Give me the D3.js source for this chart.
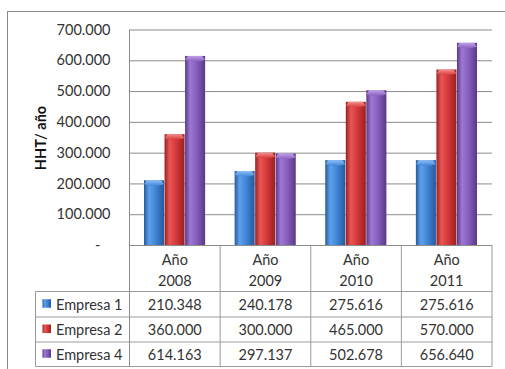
<!DOCTYPE html>
<html><head><meta charset="utf-8">
<script src="https://cdn.jsdelivr.net/npm/d3@7"></script>
<style>
html,body{margin:0;padding:0;background:#fff;}
svg{display:block;font-family:Lato,"Open Sans",sans-serif;}
</style></head>
<body>
<svg id="chart" width="505" height="369"></svg>
<script>
const years = ["2008", "2009", "2010", "2011"];
const yearPrefix = "Año";
const seriesNames = ["Empresa 1", "Empresa 2", "Empresa 4"];
const empresa1 = [210348, 240178, 275616, 275616];
const empresa2 = [360000, 300000, 465000, 570000];
const empresa4 = [614163, 297137, 502678, 656640];
const yTicks = [0, 100000, 200000, 300000, 400000, 500000, 600000, 700000];
const yTitle = "HHT/ año";

const series = [empresa1, empresa2, empresa4];
const colors = [
  {dark:"#24599e", mid:"#4288d8", light:"#5fa0ea", cap:"#8cc0f4"},
  {dark:"#982020", mid:"#d83a3a", light:"#e85656", cap:"#f29090"},
  {dark:"#583888", mid:"#8a60c0", light:"#9e78d2", cap:"#c0a0e8"}
];

const loc = d3.formatLocale({decimal:",", thousands:".", grouping:[3], currency:["",""]});
const fmt = loc.format(",.0f");

const svg = d3.select("#chart");
const plotLeft = 129.5, plotRight = 492, plotTop = 29.5, plotBase = 245;
const tableRows = [291.5, 317, 342, 366.5];
const legendLeft = 35.5;
const textColor = "#333";

// outer border
svg.append("rect").attr("x", 7.5).attr("y", 11.5).attr("width", 560).attr("height", 420)
  .attr("fill", "none").attr("stroke", "#8a8a8a").attr("stroke-width", 1);

const x = d3.scaleBand().domain(years).range([plotLeft, plotRight]).padding(0);
const xs = d3.scaleBand().domain(d3.range(series.length))
  .range([x.bandwidth() * 0.16, x.bandwidth() * 0.84]).padding(0);
const y = d3.scaleLinear().domain([0, 700000]).range([plotBase, plotTop]);

// defs gradients
const defs = svg.append("defs");
colors.forEach((c, i) => {
  const g = defs.append("linearGradient").attr("id", "g" + i).attr("x1", "0").attr("x2", "1").attr("y1", "0").attr("y2", "0");
  g.append("stop").attr("offset", "0%").attr("stop-color", c.dark);
  g.append("stop").attr("offset", "25%").attr("stop-color", c.light);
  g.append("stop").attr("offset", "55%").attr("stop-color", c.mid);
  g.append("stop").attr("offset", "100%").attr("stop-color", c.dark);
  const gc = defs.append("linearGradient").attr("id", "c" + i).attr("x1", "0").attr("x2", "0").attr("y1", "0").attr("y2", "1");
  gc.append("stop").attr("offset", "0%").attr("stop-color", c.cap);
  gc.append("stop").attr("offset", "100%").attr("stop-color", c.mid);
});

// gridlines
const yAxis = d3.axisLeft(y).tickValues(yTicks).tickSize(-(plotRight - plotLeft)).tickFormat(d => d === 0 ? "-" : fmt(d));
const ga = svg.append("g").attr("transform", `translate(${plotLeft},0)`).call(yAxis);
ga.select(".domain").remove();
ga.selectAll(".tick line").attr("stroke", "#8c8c8c").attr("stroke-width", 1);
ga.selectAll(".tick text").attr("x", -19).attr("fill", textColor)
  .style("font-size", "14.5px").style("font-family", "Lato, sans-serif");
ga.selectAll(".tick").filter(d => d === 0).select("text").attr("x", -29);

// axis line
svg.append("line").attr("x1", plotLeft).attr("x2", plotLeft).attr("y1", plotTop).attr("y2", tableRows[3])
  .attr("stroke", "#8c8c8c");

// bars
series.forEach((vals, si) => {
  const g = svg.append("g");
  g.selectAll("rect.bar").data(vals).join("rect").attr("class", "bar")
    .attr("x", (d, i) => x(years[i]) + xs(si))
    .attr("y", d => y(d))
    .attr("width", xs.bandwidth() - 0.5)
    .attr("height", d => plotBase - y(d))
    .attr("fill", `url(#g${si})`);
  g.selectAll("path.cap").data(vals).join("path").attr("class", "cap")
    .attr("d", (d, i) => {
      const x0 = x(years[i]) + xs(si), w = xs.bandwidth() - 0.5, y0 = y(d);
      return `M${x0},${y0 + 4}L${x0 + 3},${y0}L${x0 + w - 3},${y0}L${x0 + w},${y0 + 4}Q${x0 + w / 2},${y0 + 7} ${x0},${y0 + 4}Z`;
    })
    .attr("fill", `url(#c${si})`);
});

// table lines
const lc = "#9a9a9a";
years.forEach(yr => {
  svg.append("line").attr("x1", x(yr) + x.bandwidth()).attr("x2", x(yr) + x.bandwidth())
    .attr("y1", plotBase).attr("y2", tableRows[3]).attr("stroke", lc);
});
svg.append("line").attr("x1", plotLeft).attr("x2", plotRight).attr("y1", plotBase + 0.5).attr("y2", plotBase + 0.5).attr("stroke", "#8c8c8c");
tableRows.forEach(r => {
  svg.append("line").attr("x1", legendLeft).attr("x2", plotRight).attr("y1", r).attr("y2", r).attr("stroke", lc);
});
svg.append("line").attr("x1", legendLeft).attr("x2", legendLeft).attr("y1", tableRows[0]).attr("y2", tableRows[3]).attr("stroke", lc);

// header
const txt = (xx, yy, s, anchor) => svg.append("text").attr("x", xx).attr("y", yy)
  .attr("text-anchor", anchor || "middle").attr("dominant-baseline", "central")
  .attr("fill", textColor).style("font-size", "14.5px").text(s);
years.forEach(yr => {
  const cx = x(yr) + x.bandwidth() / 2;
  txt(cx, 259, yearPrefix);
  txt(cx, 280, yr);
});

// rows
series.forEach((vals, si) => {
  const cy = (tableRows[si] + tableRows[si + 1]) / 2;
  svg.append("rect").attr("x", 42.5).attr("y", cy - 5).attr("width", 8.5).attr("height", 8.5)
    .attr("fill", `url(#g${si})`);
  txt(56, cy, seriesNames[si], "start");
  vals.forEach((v, i) => txt(x(years[i]) + x.bandwidth() / 2, cy, fmt(v)));
});

// y title
svg.append("text").attr("transform", "translate(40,138) rotate(-90)")
  .attr("text-anchor", "middle").attr("dominant-baseline", "central")
  .attr("fill", "#111").style("font-size", "14.5px").style("font-weight", "bold").text(yTitle);
</script>
</body></html>
